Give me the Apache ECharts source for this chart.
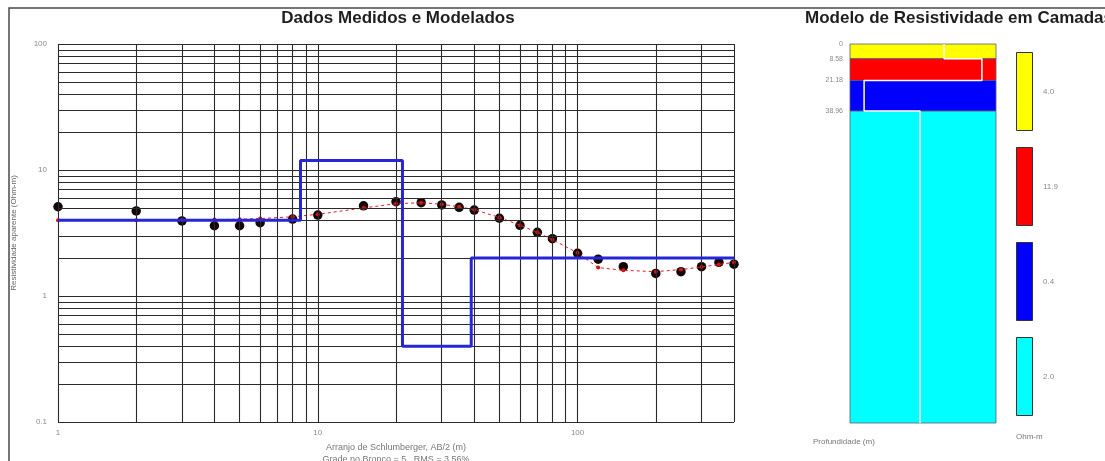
<!DOCTYPE html>
<html>
<head>
<meta charset="utf-8">
<script src="https://cdn.jsdelivr.net/npm/echarts@6/dist/echarts.min.js"></script>
<style>
  html, body { margin: 0; padding: 0; background: #fff; }
  #chart { width: 1105px; height: 461px; }
</style>
</head>
<body>
<div id="chart"></div>
<script>
// Schlumberger sounding: AB/2 spacings (m) and apparent resistivity (Ohm-m)
const abHalf = [1, 2, 3, 4, 5, 6, 8, 10, 15, 20, 25, 30, 35, 40, 50, 60, 70, 80, 100, 120, 150, 200, 250, 300, 350, 400];
const measured = [5.11, 4.73, 3.94, 3.61, 3.61, 3.82, 4.08, 4.39, 5.2, 5.6, 5.5, 5.28, 5.06, 4.81, 4.14, 3.64, 3.2, 2.85, 2.18, 1.96, 1.71, 1.51, 1.56, 1.71, 1.85, 1.79];
const modelCurve = [4.0, 4.0, 4.02, 4.04, 4.07, 4.12, 4.25, 4.45, 5.0, 5.4, 5.5, 5.35, 5.1, 4.85, 4.2, 3.65, 3.2, 2.8, 2.2, 1.68, 1.6, 1.56, 1.62, 1.7, 1.78, 1.85];

// Layered model: top depth (m) and resistivity (Ohm-m) of each layer
const layerTops = [0, 8.58, 21.18, 38.96];
const layerRho = [4.0, 11.9, 0.4, 2.0];
const layerColors = ['#ffff00', '#ff0000', '#0000ff', '#00ffff'];
const depthMax = 220;

// Axis ranges, tick labels and log grid positions
const xMin = 1, xMax = 400;
const yMin = 0.1, yMax = 100;
const xTickLabels = ['1', '10', '100'];
const yTickLabels = ['0.1', '1', '10', '100'];
const xGridValues = [1, 2, 3, 4, 5, 6, 7, 8, 9, 10, 20, 30, 40, 50, 60, 70, 80, 90, 100, 200, 300, 400];
const yGridValues = [0.1, 0.2, 0.3, 0.4, 0.5, 0.6, 0.7, 0.8, 0.9, 1, 2, 3, 4, 5, 6, 7, 8, 9, 10, 20, 30, 40, 50, 60, 70, 80, 90, 100];

const FONT = 'Liberation Sans, Arial, sans-serif';

function decadeLabel(v, labels, offset) {
  const l = Math.log10(v);
  const r = Math.round(l);
  if (Math.abs(l - r) > 1e-6) return '';
  return labels[r + offset] || '';
}

// Blue step line of the layered model along the AB/2 axis
const modelSteps = [];
layerTops.forEach((t, i) => {
  const start = i === 0 ? xMin : t;
  const end = i + 1 < layerTops.length ? layerTops[i + 1] : xMax;
  modelSteps.push([start, layerRho[i]], [end, layerRho[i]]);
});

// Layer rectangles and resistivity profile for the column plot
const layerBottoms = layerTops.map((t, i) => (i + 1 < layerTops.length ? layerTops[i + 1] : depthMax));
const rhoLo = Math.min(...layerRho) / 1.5;
const rhoHi = Math.max(...layerRho) * 1.5;
const profile = [];
layerTops.forEach((t, i) => { profile.push([layerRho[i], t], [layerRho[i], layerBottoms[i]]); });

const chart = echarts.init(document.getElementById('chart'), null, { renderer: 'canvas' });

chart.setOption({
  animation: false,
  backgroundColor: '#fff',
  textStyle: { fontFamily: FONT },
  grid: [
    { left: 58, top: 44, width: 676, height: 378, outerBoundsMode: 'none', containLabel: false },
    { left: 850, top: 44, width: 146, height: 379, outerBoundsMode: 'none', containLabel: false },
    { left: 1016, top: 44, width: 17, height: 380, outerBoundsMode: 'none', containLabel: false }
  ],
  xAxis: [
    {
      gridIndex: 0, type: 'log', logBase: 10, min: xMin, max: xMax,
      axisLine: { show: false }, axisTick: { show: false }, splitLine: { show: false },
      axisLabel: {
        color: '#8a8a8a', fontSize: 8, margin: 7,
        formatter: v => decadeLabel(v, xTickLabels, 0)
      },
      name: 'Arranjo de Schlumberger, AB/2 (m)\nGrade no Bronco = 5 , RMS = 3.56%',
      nameLocation: 'middle', nameGap: 19,
      nameTextStyle: { color: '#777', fontSize: 9, lineHeight: 12 }
    },
    { gridIndex: 1, type: 'log', logBase: 10, min: rhoLo, max: rhoHi, show: false },
    { gridIndex: 2, type: 'value', min: 0, max: 1, show: false }
  ],
  yAxis: [
    {
      gridIndex: 0, type: 'log', logBase: 10, min: yMin, max: yMax,
      axisLine: { show: false }, axisTick: { show: false }, splitLine: { show: false },
      axisLabel: {
        color: '#8a8a8a', fontSize: 8, margin: 11,
        formatter: v => decadeLabel(v, yTickLabels, 1)
      },
      name: 'Resistividade aparente (Ohm-m)',
      nameLocation: 'middle', nameGap: 40, nameRotate: 90,
      nameTextStyle: { color: '#666', fontSize: 8 }
    },
    {
      gridIndex: 1, type: 'value', inverse: true, min: 0, max: depthMax,
      axisLine: { show: false }, axisTick: { show: false }, splitLine: { show: false },
      axisLabel: {
        customValues: layerTops,
        color: '#8a8a8a', fontSize: 7, margin: 7,
        formatter: v => (v === 0 ? '0' : v.toFixed(2))
      }
    },
    {
      gridIndex: 2, type: 'category', inverse: true,
      data: layerRho.map(r => r.toFixed(1)), show: false
    }
  ],
  graphic: [
    {
      type: 'polyline', silent: true,
      shape: { points: [[9, 461], [9, 8], [1105, 8]] },
      style: { stroke: '#4a4a4a', lineWidth: 1.5, fill: null }
    },
    {
      type: 'text', x: 398, y: 18,
      style: { text: 'Dados Medidos e Modelados', font: 'bold 17px ' + FONT, fill: '#1e1e1e', textAlign: 'center', textVerticalAlign: 'middle' }
    },
    {
      type: 'text', x: 805, y: 18,
      style: { text: 'Modelo de Resistividade em Camadas', font: 'bold 17px ' + FONT, fill: '#1e1e1e', textAlign: 'left', textVerticalAlign: 'middle' }
    },
    {
      type: 'text', x: 813, y: 442,
      style: { text: 'Profundidade (m)', font: '8px ' + FONT, fill: '#777', textAlign: 'left', textVerticalAlign: 'middle' }
    },
    {
      type: 'text', x: 1016, y: 437,
      style: { text: 'Ohm-m', font: '8px ' + FONT, fill: '#777', textAlign: 'left', textVerticalAlign: 'middle' }
    }
  ],
  series: [
    {
      // log-log grid lines
      type: 'line', xAxisIndex: 0, yAxisIndex: 0, data: [], silent: true, z: 1,
      markLine: {
        silent: true, symbol: ['none', 'none'], label: { show: false },
        lineStyle: { color: '#2a2a2a', width: 1.1, type: 'solid' },
        emphasis: { disabled: true },
        data: xGridValues.map(v => ({ xAxis: v })).concat(yGridValues.map(v => ({ yAxis: v })))
      }
    },
    {
      name: 'Medidos', type: 'scatter', xAxisIndex: 0, yAxisIndex: 0, z: 3,
      symbol: 'circle', symbolSize: 9.5,
      itemStyle: { color: '#120606', opacity: 1 },
      data: abHalf.map((x, i) => [x, measured[i]])
    },
    {
      name: 'Modelados', type: 'line', xAxisIndex: 0, yAxisIndex: 0, z: 4,
      symbol: 'circle', symbolSize: 4, showAllSymbol: true,
      itemStyle: { color: '#d41414', opacity: 1 },
      lineStyle: { color: '#e02020', width: 1, type: [3, 3] },
      data: abHalf.map((x, i) => [x, modelCurve[i]])
    },
    {
      name: 'Modelo', type: 'line', xAxisIndex: 0, yAxisIndex: 0, z: 5,
      symbol: 'none',
      lineStyle: { color: '#2626d6', width: 3 },
      data: modelSteps
    },
    {
      // layer column
      type: 'custom', xAxisIndex: 1, yAxisIndex: 1, z: 2,
      data: layerTops.map((t, i) => [t, layerBottoms[i], i]),
      renderItem: (params, api) => {
        const p0 = api.coord([rhoLo, api.value(0)]);
        const p1 = api.coord([rhoHi, api.value(1)]);
        return {
          type: 'rect',
          shape: { x: p0[0], y: p0[1], width: p1[0] - p0[0], height: p1[1] - p0[1] },
          style: { fill: layerColors[api.value(2)], stroke: '#5a5a7a', lineWidth: 0.8 }
        };
      }
    },
    {
      // resistivity profile inside the column
      type: 'line', xAxisIndex: 1, yAxisIndex: 1, z: 3,
      symbol: 'none',
      lineStyle: { color: '#ffffff', width: 1.5 },
      data: profile
    },
    {
      // colour key
      type: 'bar', xAxisIndex: 2, yAxisIndex: 2, barWidth: 79,
      itemStyle: { borderColor: '#333', borderWidth: 1 },
      label: {
        show: true, position: 'right', distance: 10,
        color: '#8a8a8a', fontSize: 8,
        formatter: p => layerRho[p.dataIndex].toFixed(1)
      },
      data: layerRho.map((r, i) => ({ value: 1, itemStyle: { color: layerColors[i] } }))
    }
  ]
});
</script>
</body>
</html>
